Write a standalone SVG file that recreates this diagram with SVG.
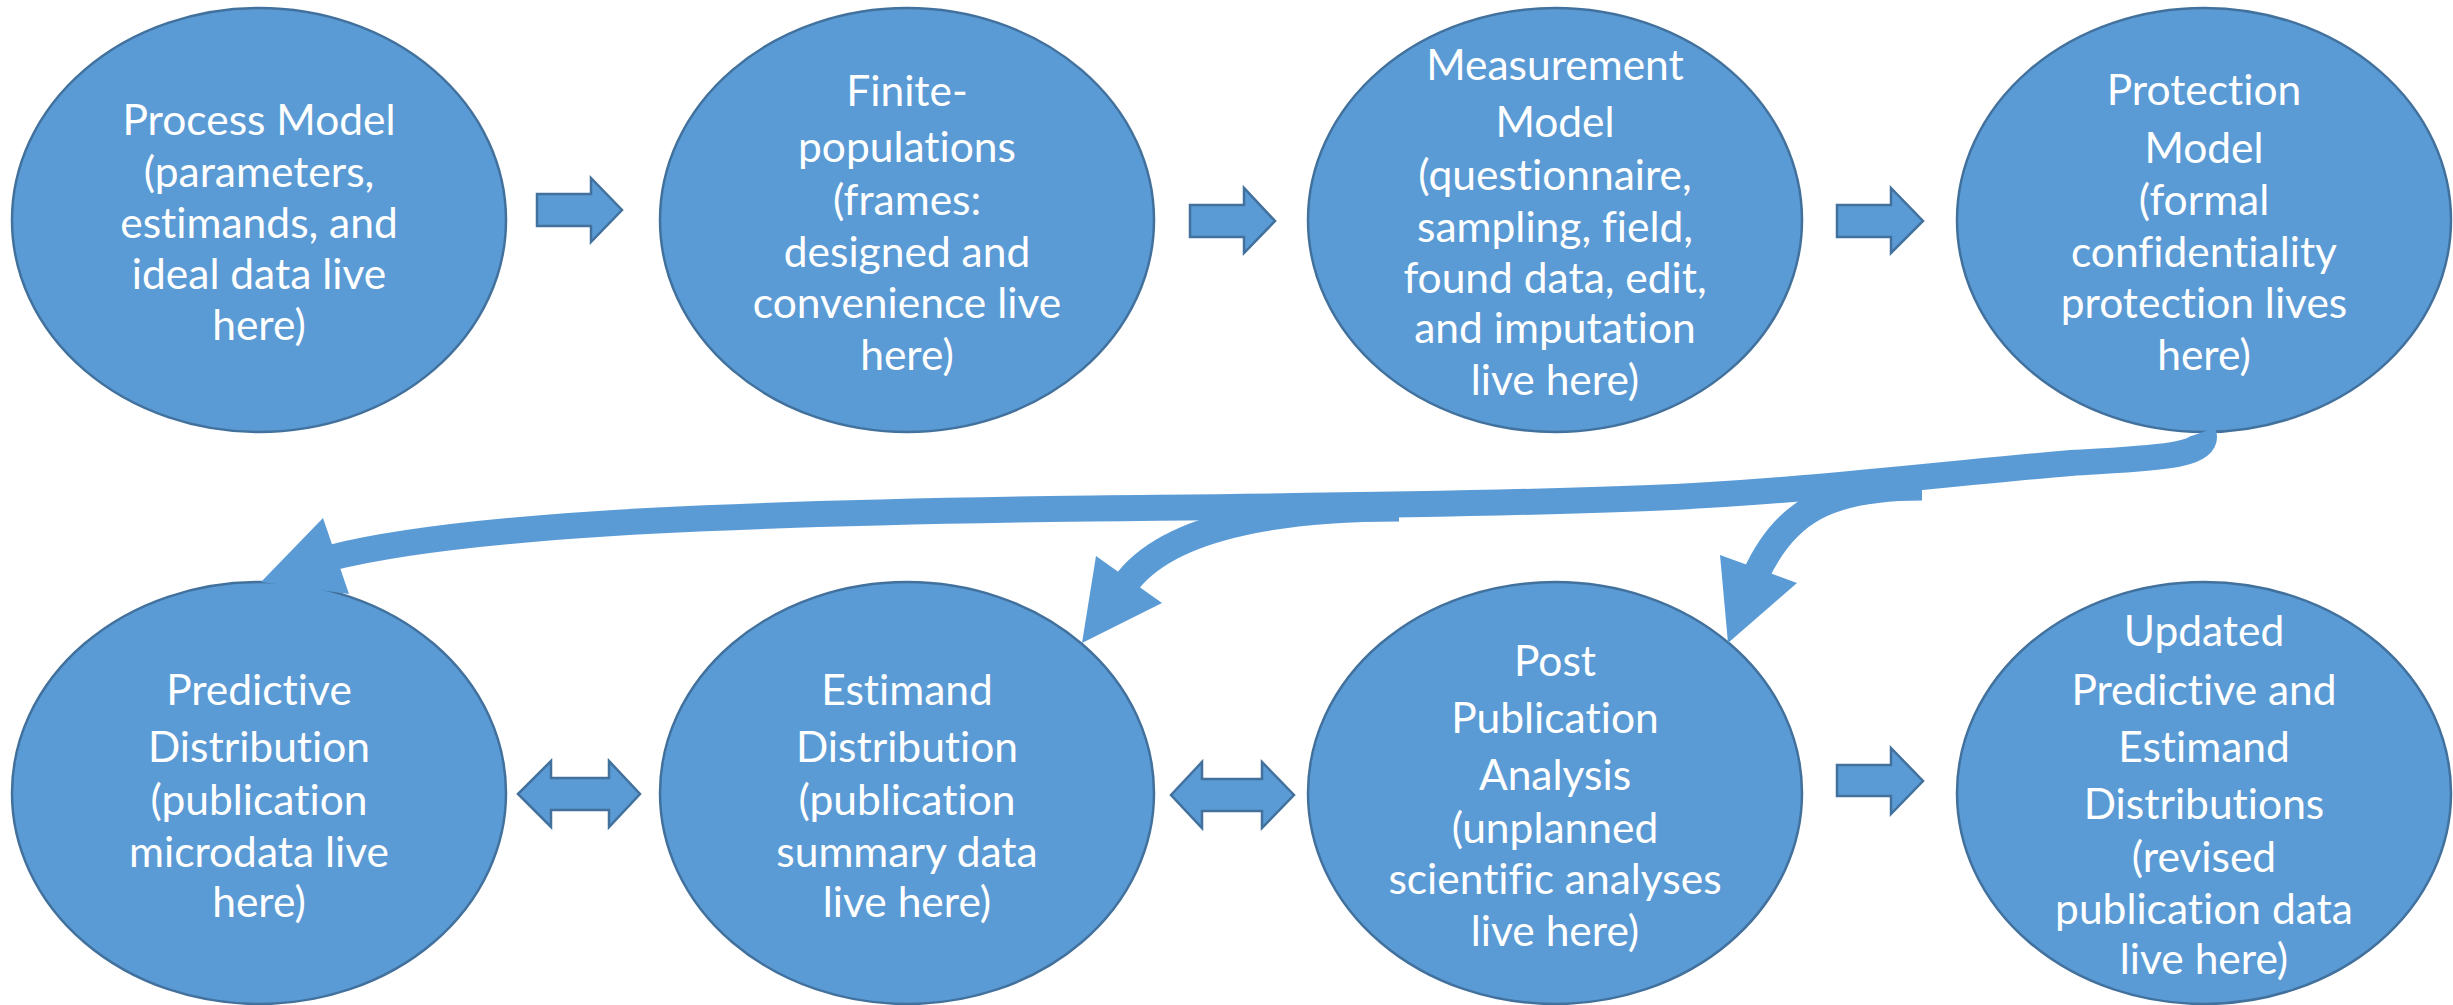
<svg xmlns="http://www.w3.org/2000/svg" width="2453" height="1005" viewBox="0 0 2453 1005">
  <style>
    .node ellipse { fill: #5B9BD5; stroke: #41719C; stroke-width: 2.5; }
    .node text { fill: #FFFFFF; font-family: Lato, "Open Sans", sans-serif; font-size: 42.5px; text-anchor: middle; font-variant-ligatures: none; font-feature-settings: "liga" 0, "dlig" 0; }
    .block { fill: #5B9BD5; stroke: #41719C; stroke-width: 2.5; stroke-linejoin: miter; }
    .curve { fill: none; stroke: #5B9BD5; stroke-width: 26; stroke-linecap: butt; }
    .head { fill: #5B9BD5; stroke: none; }
  </style>
  <rect width="2453" height="1005" fill="#FFFFFF"/>

  <!-- top row -->
  <g id="process-model" class="node">
    <ellipse cx="259" cy="220" rx="247" ry="212"/>
    <text x="259" y="135">Process Model</text>
    <text x="259" y="187">(parameters,</text>
    <text x="259" y="238">estimands, and</text>
    <text x="259" y="289">ideal data live</text>
    <text x="259" y="340">here)</text>
  </g>
  <g id="finite-populations" class="node">
    <ellipse cx="907" cy="220" rx="247" ry="212"/>
    <text x="907" y="106">Finite-</text>
    <text x="907" y="162">populations</text>
    <text x="907" y="215">(frames:</text>
    <text x="907" y="267">designed and</text>
    <text x="907" y="318">convenience live</text>
    <text x="907" y="370">here)</text>
  </g>
  <g id="measurement-model" class="node">
    <ellipse cx="1555" cy="220" rx="247" ry="212"/>
    <text x="1555" y="80">Measurement</text>
    <text x="1555" y="137">Model</text>
    <text x="1555" y="190">(questionnaire,</text>
    <text x="1555" y="242">sampling, field,</text>
    <text x="1555" y="293">found data, edit,</text>
    <text x="1555" y="343">and imputation</text>
    <text x="1555" y="395">live here)</text>
  </g>
  <g id="protection-model" class="node">
    <ellipse cx="2204" cy="220" rx="247" ry="212"/>
    <text x="2204" y="105">Protection</text>
    <text x="2204" y="163">Model</text>
    <text x="2204" y="215">(formal</text>
    <text x="2204" y="267">confidentiality</text>
    <text x="2204" y="318">protection lives</text>
    <text x="2204" y="370">here)</text>
  </g>

  <!-- bottom row -->
  <g id="predictive-distribution" class="node">
    <ellipse cx="259" cy="793" rx="247" ry="211"/>
    <text x="259" y="705">Predictive</text>
    <text x="259" y="762">Distribution</text>
    <text x="259" y="815">(publication</text>
    <text x="259" y="867">microdata live</text>
    <text x="259" y="917">here)</text>
  </g>
  <g id="estimand-distribution" class="node">
    <ellipse cx="907" cy="793" rx="247" ry="211"/>
    <text x="907" y="705">Estimand</text>
    <text x="907" y="762">Distribution</text>
    <text x="907" y="815">(publication</text>
    <text x="907" y="867">summary data</text>
    <text x="907" y="917">live here)</text>
  </g>
  <g id="post-publication-analysis" class="node">
    <ellipse cx="1555" cy="793" rx="247" ry="211"/>
    <text x="1555" y="676">Post</text>
    <text x="1555" y="733">Publication</text>
    <text x="1555" y="790">Analysis</text>
    <text x="1555" y="843">(unplanned</text>
    <text x="1555" y="894">scientific analyses</text>
    <text x="1555" y="946">live here)</text>
  </g>
  <g id="updated-distributions" class="node">
    <ellipse cx="2204" cy="793" rx="247" ry="211"/>
    <text x="2204" y="646">Updated</text>
    <text x="2204" y="705">Predictive and</text>
    <text x="2204" y="762">Estimand</text>
    <text x="2204" y="819">Distributions</text>
    <text x="2204" y="872">(revised</text>
    <text x="2204" y="924">publication data</text>
    <text x="2204" y="974">live here)</text>
  </g>

  <g id="connectors">
    <!-- block arrows, top row -->
    <polygon class="block" points="537,194 591,194 591,178 622,210 591,242 591,226 537,226"/>
    <polygon class="block" points="1190,205 1244,205 1244,188 1275,221 1244,253 1244,237 1190,237"/>
    <polygon class="block" points="1837,205 1891,205 1891,188 1923,221 1891,253 1891,237 1837,237"/>
    <!-- block arrows, bottom row -->
    <polygon class="block" points="518,794 551,761 551,778 609,778 609,761 640,794 609,827 609,810 551,810 551,827"/>
    <polygon class="block" points="1171,795 1202,762 1202,779 1262,779 1262,762 1294,795 1262,828 1262,811 1202,811 1202,828"/>
    <polygon class="block" points="1837,765 1891,765 1891,748 1923,781 1891,814 1891,796 1837,796"/>

    <!-- curved arrows from the protection model -->
    <path class="curve" d="M2203,432 C2212,458 2150,458 2071,463 C1950,473 1800,492 1650,498 C1450,506 1200,507 1050,509 C800,513 480,520 330,558"/>
    <polygon class="head" points="323,518 261,582 349,594"/>
    <path class="curve" style="stroke-width:27" d="M1399,508 C1300,508 1170,520 1124,586"/>
    <polygon class="head" points="1096,556 1082,643 1162,603"/>
    <path class="curve" style="stroke-width:27" d="M1922,487 C1830,487 1785,510 1755,577"/>
    <polygon class="head" points="1720,555 1728,643 1797,583"/>
  </g>
</svg>
